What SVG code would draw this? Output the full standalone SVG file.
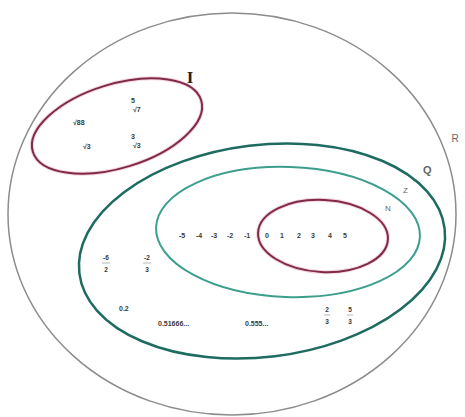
<svg xmlns="http://www.w3.org/2000/svg" width="465" height="417" viewBox="0 0 465 417">
<style>
.t{font-family:"Liberation Sans",Arial,sans-serif;font-size:7px;font-weight:bold;fill:#3a3a3a}
.f{font-family:"Liberation Sans",Arial,sans-serif;font-size:6.5px;font-weight:bold;fill:#3a3a3a;text-anchor:middle}
.n{font-family:"Liberation Sans",Arial,sans-serif;font-size:7px;font-weight:bold;fill:#3a3a3a;text-anchor:middle}
.lab{font-family:"Liberation Sans",Arial,sans-serif;fill:#666}
.set{fill:none}
</style>
<rect width="465" height="417" fill="#ffffff"/>
<g id="R">
<ellipse class="set" cx="232" cy="214" rx="224" ry="201" stroke="#8c8c8c" stroke-width="1.5"/>
<text class="lab" x="455" y="142" font-size="10" text-anchor="middle">R</text>
</g>
<g id="I">
<ellipse class="set" cx="117" cy="126" rx="88" ry="42" transform="rotate(-17 117 126)" stroke="#f4d6e0" stroke-width="4"/>
<ellipse class="set" cx="117" cy="126" rx="88" ry="42" transform="rotate(-17 117 126)" stroke="#7f2a48" stroke-width="2"/>
<text x="190" y="83" font-family="Liberation Serif,serif" font-size="17" font-weight="bold" fill="#222" text-anchor="middle">I</text>
<text class="t" x="73" y="125">√88</text>
<text class="t" x="131" y="103" font-size="5">5</text>
<text class="t" x="133" y="112">√7</text>
<text class="t" x="83" y="149">√3</text>
<text class="t" x="131" y="139" font-size="5">3</text>
<text class="t" x="133" y="148">√3</text>
</g>
<g id="Q">
<ellipse class="set" cx="262" cy="251" rx="184" ry="106" transform="rotate(-7 262 251)" stroke="#1e6b60" stroke-width="2.5"/>
<text class="lab" x="423" y="174" font-size="11" font-weight="bold" fill="#555">Q</text>
<text class="f" x="106" y="260">-6</text>
<line x1="102" y1="263" x2="110" y2="263" stroke="#888" stroke-width="0.6"/>
<text class="f" x="106" y="272">2</text>
<text class="f" x="147" y="260">-2</text>
<line x1="143" y1="263" x2="151" y2="263" stroke="#888" stroke-width="0.6"/>
<text class="f" x="147" y="272">3</text>
<text class="t" x="119" y="311">0.2</text>
<text class="t" x="158" y="326">0.51666...</text>
<text class="t" x="245" y="326">0.555...</text>
<text class="f" x="327" y="312">2</text>
<line x1="324" y1="315" x2="330" y2="315" stroke="#888" stroke-width="0.6"/>
<text class="f" x="327" y="324">3</text>
<text class="f" x="350" y="312">5</text>
<line x1="347" y1="315" x2="353" y2="315" stroke="#888" stroke-width="0.6"/>
<text class="f" x="350" y="324">3</text>
</g>
<g id="Z">
<ellipse class="set" cx="288" cy="232" rx="132" ry="65" transform="rotate(2 288 232)" stroke="#3c9f8e" stroke-width="2"/>
<text class="lab" x="403" y="193" font-size="8" fill="#9a8a90">Z</text>
<text class="n" x="182" y="238">-5</text>
<text class="n" x="199" y="238">-4</text>
<text class="n" x="214" y="238">-3</text>
<text class="n" x="230" y="238">-2</text>
<text class="n" x="247" y="238">-1</text>
</g>
<g id="N">
<ellipse class="set" cx="323" cy="236" rx="65" ry="36" transform="rotate(3 323 236)" stroke="#f4d6e0" stroke-width="4"/>
<ellipse class="set" cx="323" cy="236" rx="65" ry="36" transform="rotate(3 323 236)" stroke="#7f2a48" stroke-width="2"/>
<text class="lab" x="385" y="211" font-size="8" fill="#999">N</text>
<text class="n" x="267" y="238">0</text>
<text class="n" x="282" y="238">1</text>
<text class="n" x="299" y="238">2</text>
<text class="n" x="313" y="238">3</text>
<text class="n" x="330" y="238">4</text>
<text class="n" x="345" y="238">5</text>
</g>
<g id="connectors"></g>
</svg>
